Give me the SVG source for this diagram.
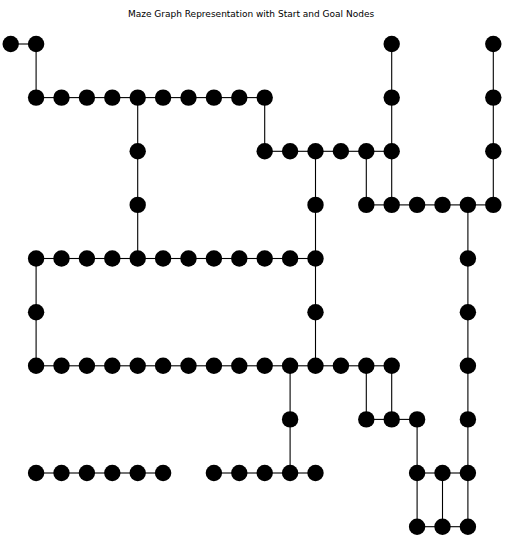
<svg xmlns="http://www.w3.org/2000/svg" width="522" height="551" viewBox="0 0 522 551">
<style>
.e{stroke:#000;stroke-width:1.1;fill:none}
.n{fill:#000}
.t{font-family:"DejaVu Sans",sans-serif;font-size:9px;fill:#000}
</style>
<rect width="522" height="551" fill="#fff"/>
<text class="t" x="251" y="16.5" text-anchor="middle">Maze Graph Representation with Start and Goal Nodes</text>
<g id="edges">
<line class="e" x1="10.7" y1="44" x2="36.1" y2="44"/>
<line class="e" x1="36.1" y1="97.6" x2="61.5" y2="97.6"/>
<line class="e" x1="61.5" y1="97.6" x2="86.9" y2="97.6"/>
<line class="e" x1="86.9" y1="97.6" x2="112.3" y2="97.6"/>
<line class="e" x1="112.3" y1="97.6" x2="137.7" y2="97.6"/>
<line class="e" x1="137.7" y1="97.6" x2="163.1" y2="97.6"/>
<line class="e" x1="163.1" y1="97.6" x2="188.5" y2="97.6"/>
<line class="e" x1="188.5" y1="97.6" x2="213.9" y2="97.6"/>
<line class="e" x1="213.9" y1="97.6" x2="239.3" y2="97.6"/>
<line class="e" x1="239.3" y1="97.6" x2="264.7" y2="97.6"/>
<line class="e" x1="264.7" y1="151.3" x2="290.1" y2="151.3"/>
<line class="e" x1="290.1" y1="151.3" x2="315.5" y2="151.3"/>
<line class="e" x1="315.5" y1="151.3" x2="340.9" y2="151.3"/>
<line class="e" x1="340.9" y1="151.3" x2="366.3" y2="151.3"/>
<line class="e" x1="366.3" y1="151.3" x2="391.7" y2="151.3"/>
<line class="e" x1="366.3" y1="204.9" x2="391.7" y2="204.9"/>
<line class="e" x1="391.7" y1="204.9" x2="417.1" y2="204.9"/>
<line class="e" x1="417.1" y1="204.9" x2="442.5" y2="204.9"/>
<line class="e" x1="442.5" y1="204.9" x2="467.9" y2="204.9"/>
<line class="e" x1="467.9" y1="204.9" x2="493.3" y2="204.9"/>
<line class="e" x1="36.1" y1="258.5" x2="61.5" y2="258.5"/>
<line class="e" x1="61.5" y1="258.5" x2="86.9" y2="258.5"/>
<line class="e" x1="86.9" y1="258.5" x2="112.3" y2="258.5"/>
<line class="e" x1="112.3" y1="258.5" x2="137.7" y2="258.5"/>
<line class="e" x1="137.7" y1="258.5" x2="163.1" y2="258.5"/>
<line class="e" x1="163.1" y1="258.5" x2="188.5" y2="258.5"/>
<line class="e" x1="188.5" y1="258.5" x2="213.9" y2="258.5"/>
<line class="e" x1="213.9" y1="258.5" x2="239.3" y2="258.5"/>
<line class="e" x1="239.3" y1="258.5" x2="264.7" y2="258.5"/>
<line class="e" x1="264.7" y1="258.5" x2="290.1" y2="258.5"/>
<line class="e" x1="290.1" y1="258.5" x2="315.5" y2="258.5"/>
<line class="e" x1="36.1" y1="365.8" x2="61.5" y2="365.8"/>
<line class="e" x1="61.5" y1="365.8" x2="86.9" y2="365.8"/>
<line class="e" x1="86.9" y1="365.8" x2="112.3" y2="365.8"/>
<line class="e" x1="112.3" y1="365.8" x2="137.7" y2="365.8"/>
<line class="e" x1="137.7" y1="365.8" x2="163.1" y2="365.8"/>
<line class="e" x1="163.1" y1="365.8" x2="188.5" y2="365.8"/>
<line class="e" x1="188.5" y1="365.8" x2="213.9" y2="365.8"/>
<line class="e" x1="213.9" y1="365.8" x2="239.3" y2="365.8"/>
<line class="e" x1="239.3" y1="365.8" x2="264.7" y2="365.8"/>
<line class="e" x1="264.7" y1="365.8" x2="290.1" y2="365.8"/>
<line class="e" x1="290.1" y1="365.8" x2="315.5" y2="365.8"/>
<line class="e" x1="315.5" y1="365.8" x2="340.9" y2="365.8"/>
<line class="e" x1="340.9" y1="365.8" x2="366.3" y2="365.8"/>
<line class="e" x1="366.3" y1="365.8" x2="391.7" y2="365.8"/>
<line class="e" x1="366.3" y1="419.4" x2="391.7" y2="419.4"/>
<line class="e" x1="391.7" y1="419.4" x2="417.1" y2="419.4"/>
<line class="e" x1="36.1" y1="473" x2="61.5" y2="473"/>
<line class="e" x1="61.5" y1="473" x2="86.9" y2="473"/>
<line class="e" x1="86.9" y1="473" x2="112.3" y2="473"/>
<line class="e" x1="112.3" y1="473" x2="137.7" y2="473"/>
<line class="e" x1="137.7" y1="473" x2="163.1" y2="473"/>
<line class="e" x1="213.9" y1="473" x2="239.3" y2="473"/>
<line class="e" x1="239.3" y1="473" x2="264.7" y2="473"/>
<line class="e" x1="264.7" y1="473" x2="290.1" y2="473"/>
<line class="e" x1="290.1" y1="473" x2="315.5" y2="473"/>
<line class="e" x1="417.1" y1="473" x2="442.5" y2="473"/>
<line class="e" x1="442.5" y1="473" x2="467.9" y2="473"/>
<line class="e" x1="417.1" y1="526.7" x2="442.5" y2="526.7"/>
<line class="e" x1="442.5" y1="526.7" x2="467.9" y2="526.7"/>
<line class="e" x1="36.1" y1="44" x2="36.1" y2="97.6"/>
<line class="e" x1="36.1" y1="258.5" x2="36.1" y2="312.2"/>
<line class="e" x1="36.1" y1="312.2" x2="36.1" y2="365.8"/>
<line class="e" x1="137.7" y1="97.6" x2="137.7" y2="151.3"/>
<line class="e" x1="137.7" y1="151.3" x2="137.7" y2="204.9"/>
<line class="e" x1="137.7" y1="204.9" x2="137.7" y2="258.5"/>
<line class="e" x1="264.7" y1="97.6" x2="264.7" y2="151.3"/>
<line class="e" x1="315.5" y1="151.3" x2="315.5" y2="204.9"/>
<line class="e" x1="315.5" y1="204.9" x2="315.5" y2="258.5"/>
<line class="e" x1="315.5" y1="258.5" x2="315.5" y2="312.2"/>
<line class="e" x1="315.5" y1="312.2" x2="315.5" y2="365.8"/>
<line class="e" x1="366.3" y1="151.3" x2="366.3" y2="204.9"/>
<line class="e" x1="366.3" y1="365.8" x2="366.3" y2="419.4"/>
<line class="e" x1="391.7" y1="44" x2="391.7" y2="97.6"/>
<line class="e" x1="391.7" y1="97.6" x2="391.7" y2="151.3"/>
<line class="e" x1="391.7" y1="151.3" x2="391.7" y2="204.9"/>
<line class="e" x1="391.7" y1="365.8" x2="391.7" y2="419.4"/>
<line class="e" x1="493.3" y1="44" x2="493.3" y2="97.6"/>
<line class="e" x1="493.3" y1="97.6" x2="493.3" y2="151.3"/>
<line class="e" x1="493.3" y1="151.3" x2="493.3" y2="204.9"/>
<line class="e" x1="467.9" y1="204.9" x2="467.9" y2="258.5"/>
<line class="e" x1="467.9" y1="258.5" x2="467.9" y2="312.2"/>
<line class="e" x1="467.9" y1="312.2" x2="467.9" y2="365.8"/>
<line class="e" x1="467.9" y1="365.8" x2="467.9" y2="419.4"/>
<line class="e" x1="467.9" y1="419.4" x2="467.9" y2="473"/>
<line class="e" x1="467.9" y1="473" x2="467.9" y2="526.7"/>
<line class="e" x1="290.1" y1="365.8" x2="290.1" y2="419.4"/>
<line class="e" x1="290.1" y1="419.4" x2="290.1" y2="473"/>
<line class="e" x1="417.1" y1="419.4" x2="417.1" y2="473"/>
<line class="e" x1="417.1" y1="473" x2="417.1" y2="526.7"/>
<line class="e" x1="442.5" y1="473" x2="442.5" y2="526.7"/>
</g>
<g id="nodes">
<g id="n0_0"><circle class="n" cx="10.7" cy="44" r="8.2"/></g>
<g id="n0_1"><circle class="n" cx="36.1" cy="44" r="8.2"/></g>
<g id="n0_15"><circle class="n" cx="391.7" cy="44" r="8.2"/></g>
<g id="n0_19"><circle class="n" cx="493.3" cy="44" r="8.2"/></g>
<g id="n1_1"><circle class="n" cx="36.1" cy="97.6" r="8.2"/></g>
<g id="n1_2"><circle class="n" cx="61.5" cy="97.6" r="8.2"/></g>
<g id="n1_3"><circle class="n" cx="86.9" cy="97.6" r="8.2"/></g>
<g id="n1_4"><circle class="n" cx="112.3" cy="97.6" r="8.2"/></g>
<g id="n1_5"><circle class="n" cx="137.7" cy="97.6" r="8.2"/></g>
<g id="n1_6"><circle class="n" cx="163.1" cy="97.6" r="8.2"/></g>
<g id="n1_7"><circle class="n" cx="188.5" cy="97.6" r="8.2"/></g>
<g id="n1_8"><circle class="n" cx="213.9" cy="97.6" r="8.2"/></g>
<g id="n1_9"><circle class="n" cx="239.3" cy="97.6" r="8.2"/></g>
<g id="n1_10"><circle class="n" cx="264.7" cy="97.6" r="8.2"/></g>
<g id="n1_15"><circle class="n" cx="391.7" cy="97.6" r="8.2"/></g>
<g id="n1_19"><circle class="n" cx="493.3" cy="97.6" r="8.2"/></g>
<g id="n2_5"><circle class="n" cx="137.7" cy="151.3" r="8.2"/></g>
<g id="n2_10"><circle class="n" cx="264.7" cy="151.3" r="8.2"/></g>
<g id="n2_11"><circle class="n" cx="290.1" cy="151.3" r="8.2"/></g>
<g id="n2_12"><circle class="n" cx="315.5" cy="151.3" r="8.2"/></g>
<g id="n2_13"><circle class="n" cx="340.9" cy="151.3" r="8.2"/></g>
<g id="n2_14"><circle class="n" cx="366.3" cy="151.3" r="8.2"/></g>
<g id="n2_15"><circle class="n" cx="391.7" cy="151.3" r="8.2"/></g>
<g id="n2_19"><circle class="n" cx="493.3" cy="151.3" r="8.2"/></g>
<g id="n3_5"><circle class="n" cx="137.7" cy="204.9" r="8.2"/></g>
<g id="n3_12"><circle class="n" cx="315.5" cy="204.9" r="8.2"/></g>
<g id="n3_14"><circle class="n" cx="366.3" cy="204.9" r="8.2"/></g>
<g id="n3_15"><circle class="n" cx="391.7" cy="204.9" r="8.2"/></g>
<g id="n3_16"><circle class="n" cx="417.1" cy="204.9" r="8.2"/></g>
<g id="n3_17"><circle class="n" cx="442.5" cy="204.9" r="8.2"/></g>
<g id="n3_18"><circle class="n" cx="467.9" cy="204.9" r="8.2"/></g>
<g id="n3_19"><circle class="n" cx="493.3" cy="204.9" r="8.2"/></g>
<g id="n4_1"><circle class="n" cx="36.1" cy="258.5" r="8.2"/></g>
<g id="n4_2"><circle class="n" cx="61.5" cy="258.5" r="8.2"/></g>
<g id="n4_3"><circle class="n" cx="86.9" cy="258.5" r="8.2"/></g>
<g id="n4_4"><circle class="n" cx="112.3" cy="258.5" r="8.2"/></g>
<g id="n4_5"><circle class="n" cx="137.7" cy="258.5" r="8.2"/></g>
<g id="n4_6"><circle class="n" cx="163.1" cy="258.5" r="8.2"/></g>
<g id="n4_7"><circle class="n" cx="188.5" cy="258.5" r="8.2"/></g>
<g id="n4_8"><circle class="n" cx="213.9" cy="258.5" r="8.2"/></g>
<g id="n4_9"><circle class="n" cx="239.3" cy="258.5" r="8.2"/></g>
<g id="n4_10"><circle class="n" cx="264.7" cy="258.5" r="8.2"/></g>
<g id="n4_11"><circle class="n" cx="290.1" cy="258.5" r="8.2"/></g>
<g id="n4_12"><circle class="n" cx="315.5" cy="258.5" r="8.2"/></g>
<g id="n4_18"><circle class="n" cx="467.9" cy="258.5" r="8.2"/></g>
<g id="n5_1"><circle class="n" cx="36.1" cy="312.2" r="8.2"/></g>
<g id="n5_12"><circle class="n" cx="315.5" cy="312.2" r="8.2"/></g>
<g id="n5_18"><circle class="n" cx="467.9" cy="312.2" r="8.2"/></g>
<g id="n6_1"><circle class="n" cx="36.1" cy="365.8" r="8.2"/></g>
<g id="n6_2"><circle class="n" cx="61.5" cy="365.8" r="8.2"/></g>
<g id="n6_3"><circle class="n" cx="86.9" cy="365.8" r="8.2"/></g>
<g id="n6_4"><circle class="n" cx="112.3" cy="365.8" r="8.2"/></g>
<g id="n6_5"><circle class="n" cx="137.7" cy="365.8" r="8.2"/></g>
<g id="n6_6"><circle class="n" cx="163.1" cy="365.8" r="8.2"/></g>
<g id="n6_7"><circle class="n" cx="188.5" cy="365.8" r="8.2"/></g>
<g id="n6_8"><circle class="n" cx="213.9" cy="365.8" r="8.2"/></g>
<g id="n6_9"><circle class="n" cx="239.3" cy="365.8" r="8.2"/></g>
<g id="n6_10"><circle class="n" cx="264.7" cy="365.8" r="8.2"/></g>
<g id="n6_11"><circle class="n" cx="290.1" cy="365.8" r="8.2"/></g>
<g id="n6_12"><circle class="n" cx="315.5" cy="365.8" r="8.2"/></g>
<g id="n6_13"><circle class="n" cx="340.9" cy="365.8" r="8.2"/></g>
<g id="n6_14"><circle class="n" cx="366.3" cy="365.8" r="8.2"/></g>
<g id="n6_15"><circle class="n" cx="391.7" cy="365.8" r="8.2"/></g>
<g id="n6_18"><circle class="n" cx="467.9" cy="365.8" r="8.2"/></g>
<g id="n7_11"><circle class="n" cx="290.1" cy="419.4" r="8.2"/></g>
<g id="n7_14"><circle class="n" cx="366.3" cy="419.4" r="8.2"/></g>
<g id="n7_15"><circle class="n" cx="391.7" cy="419.4" r="8.2"/></g>
<g id="n7_16"><circle class="n" cx="417.1" cy="419.4" r="8.2"/></g>
<g id="n7_18"><circle class="n" cx="467.9" cy="419.4" r="8.2"/></g>
<g id="n8_1"><circle class="n" cx="36.1" cy="473" r="8.2"/></g>
<g id="n8_2"><circle class="n" cx="61.5" cy="473" r="8.2"/></g>
<g id="n8_3"><circle class="n" cx="86.9" cy="473" r="8.2"/></g>
<g id="n8_4"><circle class="n" cx="112.3" cy="473" r="8.2"/></g>
<g id="n8_5"><circle class="n" cx="137.7" cy="473" r="8.2"/></g>
<g id="n8_6"><circle class="n" cx="163.1" cy="473" r="8.2"/></g>
<g id="n8_8"><circle class="n" cx="213.9" cy="473" r="8.2"/></g>
<g id="n8_9"><circle class="n" cx="239.3" cy="473" r="8.2"/></g>
<g id="n8_10"><circle class="n" cx="264.7" cy="473" r="8.2"/></g>
<g id="n8_11"><circle class="n" cx="290.1" cy="473" r="8.2"/></g>
<g id="n8_12"><circle class="n" cx="315.5" cy="473" r="8.2"/></g>
<g id="n8_16"><circle class="n" cx="417.1" cy="473" r="8.2"/></g>
<g id="n8_17"><circle class="n" cx="442.5" cy="473" r="8.2"/></g>
<g id="n8_18"><circle class="n" cx="467.9" cy="473" r="8.2"/></g>
<g id="n9_16"><circle class="n" cx="417.1" cy="526.7" r="8.2"/></g>
<g id="n9_17"><circle class="n" cx="442.5" cy="526.7" r="8.2"/></g>
<g id="n9_18"><circle class="n" cx="467.9" cy="526.7" r="8.2"/></g>
</g>
</svg>
